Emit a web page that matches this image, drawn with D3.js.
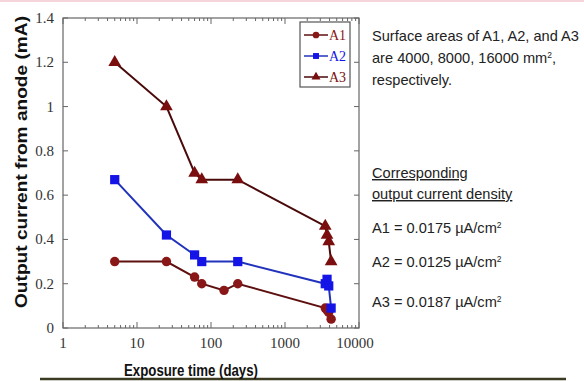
<!DOCTYPE html>
<html>
<head>
<meta charset="utf-8">
<script src="https://cdn.jsdelivr.net/npm/d3@7"></script>
<style>
  body { margin: 0; background: #fff; }
  svg { display: block; }
</style>
</head>
<body>
<div id="chart"></div>
<script>
// exposure days and currents (mA)
const a1Days = [5, 25, 60, 75, 150, 230, 3500, 3700, 3900, 4200];
const a1Current = [0.30, 0.30, 0.23, 0.20, 0.17, 0.20, 0.09, 0.08, 0.07, 0.04];
const a2Days = [5, 25, 60, 75, 230, 3500, 3700, 3900, 4200];
const a2Current = [0.67, 0.42, 0.33, 0.30, 0.30, 0.20, 0.22, 0.19, 0.09];
const a3Days = [5, 25, 60, 75, 230, 3500, 3700, 3900, 4200];
const a3Current = [1.20, 1.00, 0.70, 0.67, 0.67, 0.46, 0.42, 0.39, 0.30];

const xTicks = [1, 10, 100, 1000, 10000];
const yTicks = [0, 0.2, 0.4, 0.6, 0.8, 1, 1.2, 1.4];
const seriesNames = ['A1', 'A2', 'A3'];

const noteLines = ['Surface areas of A1, A2, and A3', 'are 4000, 8000, 16000 mm', 'respectively.'];
const densityLabels = ['A1 = 0.0175 \u00b5A/cm', 'A2 = 0.0125 \u00b5A/cm', 'A3 = 0.0187 \u00b5A/cm'];

const W = 584, H = 381;
const margin = { top: 18, right: 225, bottom: 53, left: 63 };
const width = W - margin.left - margin.right;
const height = H - margin.top - margin.bottom;

const svg = d3.select('#chart').append('svg')
    .attr('width', W)
    .attr('height', H);

// faint pink band on top and the dark rule at the bottom of the slide
svg.append('rect').attr('x', 0).attr('y', 0).attr('width', W).attr('height', 2).attr('fill', '#f6d4dc');
svg.append('line').attr('x1', 40).attr('x2', 566).attr('y1', 379).attr('y2', 379)
    .attr('stroke', '#3b3a22').attr('stroke-width', 2.5);

const g = svg.append('g').attr('transform', `translate(${margin.left},${margin.top})`);

const x = d3.scaleLog().domain([1, 10000]).range([0, width]);
const y = d3.scaleLinear().domain([0, 1.4]).range([height, 0]);

const axisColor = '#666';
const serif = '"Liberation Serif", "Times New Roman", serif';

// frame
g.append('rect').attr('width', width).attr('height', height)
    .attr('fill', 'none').attr('stroke', axisColor).attr('stroke-width', 1.2);

// minor + major log ticks on bottom and top
const minor = [];
for (let d = 1; d < 10000; d *= 10) {
    for (let k = 2; k < 10; k++) minor.push(d * k);
}
[0, height].forEach(function (yy) {
    const dir = yy === 0 ? 1 : -1;
    g.selectAll(null).data(minor).enter().append('line')
        .attr('x1', d => x(d)).attr('x2', d => x(d))
        .attr('y1', yy).attr('y2', yy + dir * 3)
        .attr('stroke', axisColor);
    g.selectAll(null).data(xTicks).enter().append('line')
        .attr('x1', d => x(d)).attr('x2', d => x(d))
        .attr('y1', yy).attr('y2', yy + dir * 6)
        .attr('stroke', axisColor);
});
// y ticks on left and right
[0, width].forEach(function (xx) {
    const dir = xx === 0 ? 1 : -1;
    g.selectAll(null).data(yTicks).enter().append('line')
        .attr('y1', d => y(d)).attr('y2', d => y(d))
        .attr('x1', xx).attr('x2', xx + dir * 5)
        .attr('stroke', axisColor);
});

g.selectAll('.xlab').data(xTicks).enter().append('text')
    .attr('class', 'xlab')
    .attr('x', d => x(d) - (d === 10000 ? 4 : 0))
    .attr('y', height + 20)
    .attr('text-anchor', 'middle')
    .style('font-family', serif).style('font-size', '15px').style('fill', '#333')
    .text(d => d);

g.selectAll('.ylab').data(yTicks).enter().append('text')
    .attr('class', 'ylab')
    .attr('x', -9)
    .attr('y', d => y(d) + 5)
    .attr('text-anchor', 'end')
    .style('font-family', serif).style('font-size', '15px').style('fill', '#333')
    .text(d => d);

// axis titles (narrow, tall bold font in the original)
svg.append('text')
    .attr('transform', 'translate(27,162) rotate(-90)')
    .attr('text-anchor', 'middle')
    .attr('textLength', 292).attr('lengthAdjust', 'spacingAndGlyphs')
    .style('font-family', 'Liberation Sans, Arial, sans-serif')
    .style('font-weight', 'bold').style('font-size', '16.5px').style('fill', '#111')
    .text('Output current from anode (mA)');

svg.append('text')
    .attr('x', 191).attr('y', 376)
    .attr('text-anchor', 'middle')
    .attr('textLength', 134).attr('lengthAdjust', 'spacingAndGlyphs')
    .style('font-family', 'Liberation Sans, Arial, sans-serif')
    .style('font-weight', 'bold').style('font-size', '16px').style('fill', '#111')
    .text('Exposure time (days)');

// series
const series = [
    { name: seriesNames[0], days: a1Days, vals: a1Current, fill: '#8a1717', line: '#5e1010', shape: d3.symbolCircle, size: 70 },
    { name: seriesNames[1], days: a2Days, vals: a2Current, fill: '#1414e6', line: '#2233bb', shape: d3.symbolSquare, size: 85 },
    { name: seriesNames[2], days: a3Days, vals: a3Current, fill: '#7a0e0e', line: '#4a0a0a', shape: d3.symbolTriangle, size: 70 }
];

const line = d3.line().x(d => x(d[0])).y(d => y(d[1]));

series.forEach(function (s) {
    const pts = s.days.map((d, i) => [d, s.vals[i]]);
    g.append('path').datum(pts)
        .attr('d', line)
        .attr('fill', 'none')
        .attr('stroke', s.line)
        .attr('stroke-width', 2);
    g.selectAll(null).data(pts).enter().append('path')
        .attr('transform', d => `translate(${x(d[0])},${y(d[1])})`)
        .attr('d', d3.symbol().type(s.shape).size(s.size))
        .attr('fill', s.fill);
});

// legend
const leg = svg.append('g').attr('transform', 'translate(300,22)');
leg.append('rect').attr('width', 50).attr('height', 65)
    .attr('fill', '#fff').attr('stroke', '#555').attr('stroke-width', 1.2);
series.forEach(function (s, i) {
    const ly = 13 + i * 21;
    leg.append('line').attr('x1', 4).attr('x2', 28).attr('y1', ly).attr('y2', ly)
        .attr('stroke', s.line).attr('stroke-width', 1.5);
    leg.append('path').attr('transform', `translate(16,${ly})`)
        .attr('d', d3.symbol().type(s.shape).size(35)).attr('fill', s.fill);
    leg.append('text').attr('x', 29).attr('y', ly + 5)
        .style('font-family', serif).style('font-size', '14px').style('fill', s.fill)
        .text(s.name);
});

// notes on the right
const sans = '"Liberation Sans", Arial, sans-serif';
const notes = svg.append('g').style('font-family', sans).style('font-size', '14.6px').style('fill', '#222');
noteLines.forEach(function (t, i) {
    const tx = notes.append('text').attr('x', 372).attr('y', 41 + i * 22).text(t);
    if (i === 1) {
        tx.append('tspan').attr('dy', -5).style('font-size', '8.5px').text('2');
        tx.append('tspan').attr('dy', 5).text(',');
    }
});
notes.append('text').attr('x', 372).attr('y', 178)
    .style('text-decoration', 'underline').text('Corresponding');
notes.append('text').attr('x', 372).attr('y', 199)
    .style('text-decoration', 'underline').text('output current density');
densityLabels.forEach(function (t, i) {
    const tx = notes.append('text').attr('x', 372).attr('y', [233, 267, 307][i]).text(t);
    tx.append('tspan').attr('dy', -5).style('font-size', '8.5px').text('2');
});
</script>
</body>
</html>
